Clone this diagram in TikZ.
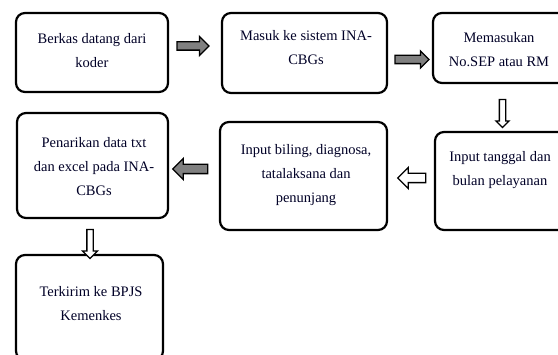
\documentclass[tikz,border=0pt]{standalone}
\usepackage{fontspec}
\setmainfont{Liberation Serif}
\usetikzlibrary{shapes.arrows}
\begin{document}
\begin{tikzpicture}[x=1pt,y=-1pt,
  box/.style={draw=black, line width=2.2pt, rounded corners=9pt, inner sep=0pt},
  txt/.style={align=center, inner sep=0pt, font=\fontsize{14.5}{24}\selectfont, text=black!85!blue},
  barrow/.style={single arrow, draw=black, line width=1.3pt, inner xsep=0pt, single arrow head extend=5pt},
  grayarrow/.style={barrow, fill=black!50},
  whitearrow/.style={barrow, fill=white},
  downarrow/.style={whitearrow, shape border rotate=270, inner ysep=0pt}
]
\useasboundingbox (0,0) rectangle (558,355);
\clip (0,0) rectangle (558,355);
% boxes
\node[box, minimum width=152pt, minimum height=79pt] (b1) at (92,52.5) {};
\node[box, minimum width=165pt, minimum height=80pt] (b2) at (304.5,53) {};
\node[box, minimum width=134pt, minimum height=70pt] (b3) at (500,48) {};
\node[box, minimum width=132pt, minimum height=98pt] (b4) at (501,181) {};
\node[box, minimum width=167pt, minimum height=108pt] (b5) at (303.5,176) {};
\node[box, minimum width=151pt, minimum height=105pt] (b6) at (92.5,165.5) {};
\node[box, minimum width=147pt, minimum height=105pt] (b7) at (89.5,307.5) {};
% texts
\node[txt] (t1) at (92,51) {Berkas datang dari\\koder};
\node[txt] (t2) at (306,48) {Masuk ke sistem INA-\\CBGs};
\node[txt] (t3) at (499,50) {Memasukan\\No.SEP atau RM};
\node[txt] (t4) at (500,170) {Input tanggal dan\\bulan pelayanan};
\node[txt] (t5) at (306,175) {Input biling, diagnosa,\\tatalaksana dan\\penunjang};
\node[txt] (t6) at (94,167) {Penarikan data txt\\dan excel pada INA-\\CBGs};
\node[txt] (t7) at (91,304) {Terkirim ke BPJS\\Kemenkes};
% block arrows
\node[grayarrow, minimum height=32pt, inner ysep=3.5pt, single arrow head extend=5.5pt] (a1) at (191,46) {};
\node[grayarrow, minimum height=34pt, inner ysep=3.5pt, single arrow head extend=4.5pt] (a2) at (410,59.5) {};
\node[downarrow, minimum height=28pt, inner xsep=2.5pt, single arrow head extend=3.5pt] (a3) at (502.5,112) {};
\node[whitearrow, minimum height=28pt, inner ysep=4pt, single arrow head extend=6pt, shape border rotate=180] (a4) at (414,178) {};
\node[grayarrow, minimum height=35pt, inner ysep=4pt, single arrow head extend=6pt, shape border rotate=180] (a5) at (192.5,169) {};
\node[downarrow, minimum height=29pt, inner xsep=2.5pt, single arrow head extend=4.5pt] (a6) at (90,242.5) {};
\end{tikzpicture}
\end{document}
